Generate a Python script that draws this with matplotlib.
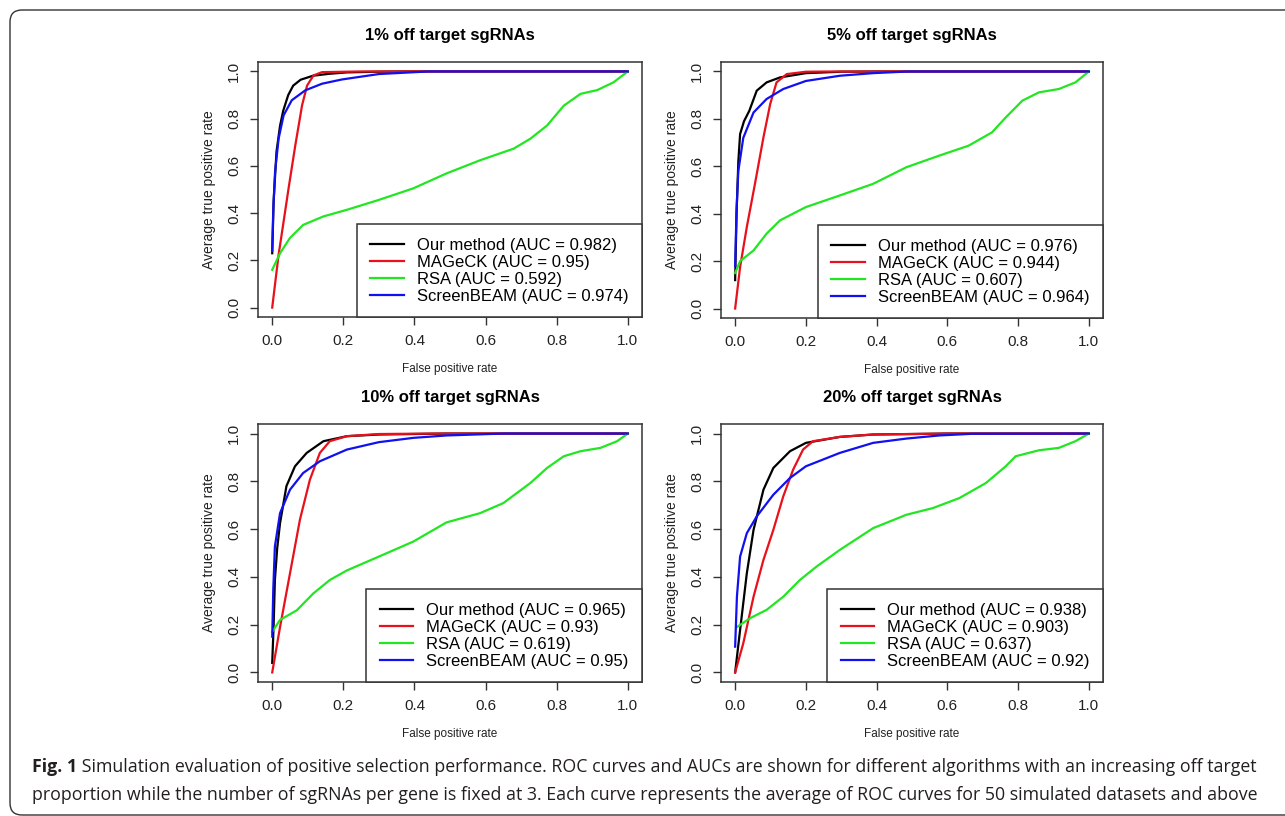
import matplotlib
matplotlib.use('Agg')
import matplotlib.pyplot as plt
from matplotlib.patches import FancyBboxPatch
from matplotlib.transforms import IdentityTransform

plt.rcParams['font.family'] = ['Liberation Sans', 'DejaVu Sans']

# panel titles and legend names
titles = ['1% off target sgRNAs', '5% off target sgRNAs',
          '10% off target sgRNAs', '20% off target sgRNAs']
methods = ['Our method', 'MAGeCK', 'RSA', 'ScreenBEAM']
colors = ['black', '#e8101a', '#22e622', '#1010f0']

# AUC values per panel: ours, mageck, rsa, screenbeam
auc_1 = ['0.982', '0.95', '0.592', '0.974']
auc_5 = ['0.976', '0.944', '0.607', '0.964']
auc_10 = ['0.965', '0.93', '0.619', '0.95']
auc_20 = ['0.938', '0.903', '0.637', '0.92']

# ---- 1% off target ----
ours_1_x = [0, 0.004, 0.012, 0.022, 0.031, 0.045, 0.059, 0.08, 0.115, 0.16, 0.21, 0.3, 0.36, 1.0]
ours_1_y = [0.23, 0.45, 0.66, 0.77, 0.834, 0.9, 0.94, 0.965, 0.982, 0.99, 0.996, 0.999, 1.0, 1.0]
mag_1_x = [0, 0.008, 0.018, 0.032, 0.046, 0.065, 0.084, 0.098, 0.116, 0.14, 0.25, 1.0]
mag_1_y = [0, 0.1, 0.224, 0.364, 0.505, 0.688, 0.857, 0.94, 0.983, 0.997, 1.0, 1.0]
rsa_1_x = [0, 0.022, 0.05, 0.087, 0.144, 0.21, 0.3, 0.397, 0.49, 0.585, 0.679, 0.726, 0.773, 0.82, 0.867, 0.914, 0.96, 1.0]
rsa_1_y = [0.16, 0.23, 0.295, 0.35, 0.386, 0.414, 0.456, 0.505, 0.568, 0.624, 0.673, 0.715, 0.771, 0.855, 0.905, 0.921, 0.954, 1.0]
sb_1_x = [0, 0.003, 0.008, 0.018, 0.032, 0.055, 0.093, 0.14, 0.196, 0.3, 0.44, 1.0]
sb_1_y = [0.24, 0.42, 0.575, 0.716, 0.814, 0.878, 0.92, 0.948, 0.966, 0.989, 1.0, 1.0]

# ---- 5% off target ----
ours_5_x = [0, 0.004, 0.009, 0.014, 0.025, 0.04, 0.061, 0.089, 0.127, 0.2, 0.3, 0.4, 1.0]
ours_5_y = [0.12, 0.4, 0.62, 0.736, 0.79, 0.834, 0.919, 0.954, 0.975, 0.993, 0.999, 1.0, 1.0]
mag_5_x = [0, 0.014, 0.033, 0.056, 0.08, 0.099, 0.117, 0.146, 0.2, 0.28, 1.0]
mag_5_y = [0, 0.175, 0.344, 0.526, 0.722, 0.862, 0.954, 0.989, 0.999, 1.0, 1.0]
rsa_5_x = [0, 0.014, 0.052, 0.089, 0.127, 0.2, 0.296, 0.39, 0.484, 0.577, 0.66, 0.726, 0.765, 0.812, 0.859, 0.915, 0.962, 1.0]
rsa_5_y = [0.15, 0.2, 0.245, 0.316, 0.372, 0.428, 0.477, 0.526, 0.596, 0.645, 0.687, 0.743, 0.806, 0.877, 0.912, 0.926, 0.954, 1.0]
sb_5_x = [0, 0.004, 0.009, 0.023, 0.052, 0.089, 0.136, 0.2, 0.296, 0.39, 0.49, 1.0]
sb_5_y = [0.18, 0.42, 0.58, 0.72, 0.827, 0.884, 0.926, 0.96, 0.982, 0.993, 1.0, 1.0]

# ---- 10% off target ----
ours_10_x = [0, 0.004, 0.0075, 0.014, 0.022, 0.04, 0.064, 0.097, 0.144, 0.21, 0.3, 0.49, 1.0]
ours_10_y = [0.04, 0.2, 0.387, 0.52, 0.625, 0.78, 0.863, 0.919, 0.968, 0.989, 0.996, 1.0, 1.0]
mag_10_x = [0, 0.022, 0.05, 0.078, 0.106, 0.134, 0.162, 0.21, 0.3, 0.45, 1.0]
mag_10_y = [0, 0.19, 0.415, 0.64, 0.807, 0.919, 0.968, 0.989, 0.998, 1.0, 1.0]
rsa_10_x = [0, 0.022, 0.069, 0.115, 0.162, 0.21, 0.3, 0.397, 0.49, 0.585, 0.65, 0.726, 0.773, 0.82, 0.867, 0.923, 0.97, 1.0]
rsa_10_y = [0.17, 0.22, 0.26, 0.33, 0.387, 0.427, 0.485, 0.548, 0.628, 0.667, 0.709, 0.793, 0.856, 0.905, 0.926, 0.94, 0.968, 1.0]
sb_10_x = [0, 0.003, 0.0075, 0.022, 0.05, 0.087, 0.134, 0.21, 0.3, 0.397, 0.49, 0.65, 1.0]
sb_10_y = [0.15, 0.35, 0.527, 0.667, 0.765, 0.835, 0.884, 0.933, 0.964, 0.982, 0.992, 1.0, 1.0]

# ---- 20% off target ----
ours_20_x = [0, 0.014, 0.033, 0.052, 0.08, 0.108, 0.155, 0.2, 0.296, 0.39, 0.6, 1.0]
ours_20_y = [0, 0.178, 0.415, 0.597, 0.765, 0.856, 0.926, 0.961, 0.986, 0.996, 1.0, 1.0]
mag_20_x = [0, 0.023, 0.052, 0.08, 0.108, 0.136, 0.164, 0.192, 0.22, 0.296, 0.39, 0.6, 1.0]
mag_20_y = [0, 0.122, 0.317, 0.471, 0.597, 0.737, 0.849, 0.933, 0.968, 0.986, 0.996, 1.0, 1.0]
rsa_20_x = [0.005, 0.042, 0.089, 0.136, 0.183, 0.23, 0.296, 0.39, 0.484, 0.559, 0.634, 0.709, 0.765, 0.793, 0.859, 0.915, 0.962, 1.0]
rsa_20_y = [0.19, 0.227, 0.262, 0.317, 0.387, 0.443, 0.513, 0.604, 0.66, 0.688, 0.73, 0.793, 0.863, 0.905, 0.93, 0.94, 0.968, 1.0]
sb_20_x = [0, 0.005, 0.014, 0.033, 0.061, 0.108, 0.155, 0.2, 0.296, 0.39, 0.484, 0.577, 0.67, 1.0]
sb_20_y = [0.108, 0.317, 0.485, 0.583, 0.653, 0.744, 0.814, 0.863, 0.919, 0.961, 0.979, 0.992, 0.999, 1.0]

panels = [
    (titles[0], auc_1, [(ours_1_x, ours_1_y), (mag_1_x, mag_1_y), (rsa_1_x, rsa_1_y), (sb_1_x, sb_1_y)]),
    (titles[1], auc_5, [(ours_5_x, ours_5_y), (mag_5_x, mag_5_y), (rsa_5_x, rsa_5_y), (sb_5_x, sb_5_y)]),
    (titles[2], auc_10, [(ours_10_x, ours_10_y), (mag_10_x, mag_10_y), (rsa_10_x, rsa_10_y), (sb_10_x, sb_10_y)]),
    (titles[3], auc_20, [(ours_20_x, ours_20_y), (mag_20_x, mag_20_y), (rsa_20_x, rsa_20_y), (sb_20_x, sb_20_y)]),
]

W, H = 1285, 816
fig = plt.figure(figsize=(W / 100, H / 100), dpi=100)

# axes boxes in pixels: left, top, right, bottom
boxes = [(258, 62, 642, 317), (721, 62, 1103, 318),
         (258, 424, 642, 682), (721, 424, 1103, 682)]

for (l, t, r, b), (title, aucs, curves) in zip(boxes, panels):
    ax = fig.add_axes([l / W, 1 - b / H, (r - l) / W, (b - t) / H])
    for (xs, ys), m, c, a in zip(curves, methods, colors, aucs):
        ax.plot(xs, ys, color=c, lw=1.6, label='%s (AUC = %s)' % (m, a))
    ax.set_xlim(-0.04, 1.04)
    ax.set_ylim(-0.04, 1.04)
    ax.set_xticks([0, 0.2, 0.4, 0.6, 0.8, 1.0])
    ax.set_yticks([0, 0.2, 0.4, 0.6, 0.8, 1.0])
    ax.set_xticklabels(['0.0', '0.2', '0.4', '0.6', '0.8', '1.0'], fontsize=11, color='#222222')
    ax.set_yticklabels(['0.0', '0.2', '0.4', '0.6', '0.8', '1.0'], fontsize=11, color='#222222',
                       rotation=90, va='center')
    ax.tick_params(length=6, width=1, color='#333333', pad=6)
    for s in ax.spines.values():
        s.set_color('#333333')
        s.set_linewidth(1.1)
    ax.set_title(title, fontsize=12, fontweight='bold', pad=16)
    ax.set_xlabel('False positive rate', fontsize=8.5, labelpad=11, color='#222222')
    ax.set_ylabel('Average true positive rate', fontsize=10, labelpad=8, color='#222222')
    leg = ax.legend(loc='lower right', fontsize=12, borderaxespad=0, fancybox=False,
                    handlelength=2.0, handletextpad=0.8, labelspacing=0.12, borderpad=0.8)
    leg.get_frame().set_edgecolor('#333333')
    leg.get_frame().set_linewidth(1.1)
    leg.get_frame().set_alpha(1)

# caption below the panels
cap_font = ['Open Sans', 'DejaVu Sans']
cap_size = 12.8
line1 = ' Simulation evaluation of positive selection performance. ROC curves and AUCs are shown for different algorithms with an increasing off target'
line2 = 'proportion while the number of sgRNAs per gene is fixed at 3. Each curve represents the average of ROC curves for 50 simulated datasets and above'
t1 = fig.text(32 / W, 1 - 767 / H, 'Fig. 1', fontsize=cap_size, fontweight='bold',
              family=cap_font, color='#231f20', va='center')
plt.annotate(line1, xy=(1, 0), xycoords=t1, va='bottom', ha='left', fontsize=cap_size,
             family=cap_font, color='#231f20')
fig.text(32 / W, 1 - 795 / H, line2, fontsize=cap_size, family=cap_font,
         color='#231f20', va='center')

# rounded frame around the whole figure
frame = FancyBboxPatch((10, 1), 1300, 805, boxstyle='round,pad=0,rounding_size=12',
                       transform=IdentityTransform(), fill=False, ec='#333333', lw=1.0)
fig.patches.append(frame)

fig.savefig('out.png', dpi=100)
